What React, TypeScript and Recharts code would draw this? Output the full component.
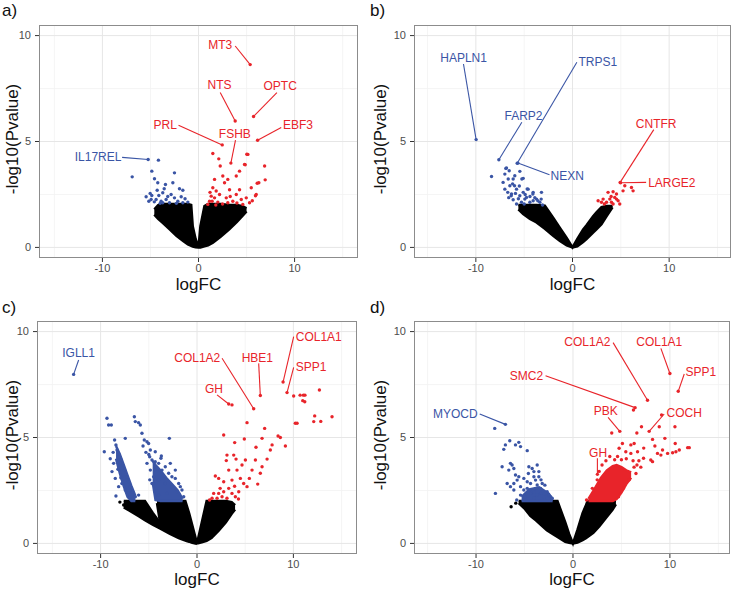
import React from "react";
import { ComposedChart, XAxis, YAxis, Scatter, Area, ReferenceLine, CartesianGrid } from "recharts";

// [x, y] points, [x, low, high] bands for dense clouds
type Pt = [number, number];
type Band = [number, number, number];
type Lab = { name: string; tx: number; ty: number; sx: number; sy: number; px: number; py: number };

const RED = "#e8242a";
const BLUE = "#3a55a5";
const FONT = '"Liberation Sans", Arial, Helvetica, sans-serif';

const X_TICKS = [-10, 0, 10];
const Y_TICKS = [0, 5, 10];
const GX_MAJOR = [-10, 0, 10];
const GX_MINOR = [-15, -5, 5, 15];
const GY_MAJOR = [0, 5, 10];
const GY_MINOR = [2.5, 7.5];
const Y_DOMAIN: [number, number] = [-0.5, 10.5];

// ---------- panel a ----------
const aBlack: Band[] = [
  [-4.6, 1.55, 1.8], [-4.2, 1.35, 2.0], [-3.7, 1.15, 2.05], [-3.0, 0.85, 2.05], [-2.3, 0.55, 2.05],
  [-1.6, 0.3, 2.05], [-1.1, 0.14, 2.05], [-0.76, 0.07, 2.0], [-0.6, 0.04, 1.0], [-0.3, 0.01, 0.4],
  [0, 0, 0], [0.2, 0.0, 1.0], [0.62, 0.05, 1.95], [1.0, 0.1, 2.05], [1.5, 0.22, 2.05], [2.3, 0.5, 2.05],
  [3.2, 0.85, 2.0], [4.0, 1.2, 2.0], [4.6, 1.5, 1.95], [5.0, 1.7, 1.85],
];
const aBlue: Pt[] = [
  [-6.9, 3.33], [-4.17, 4.12], [-4.86, 3.6], [-2.5, 3.52], [-4.58, 3.24], [-2.67, 3.05], [-3.57, 2.77],
  [-1.98, 2.77], [-1.63, 2.7], [-5.03, 2.55], [-5.45, 2.39], [-4.86, 2.45], [-4.41, 2.26], [-3.89, 2.18],
  [-3.37, 2.26], [-3.02, 2.11], [-2.5, 2.34], [-2.15, 2.18], [-1.63, 2.11], [-1.11, 2.14], [-3.72, 2.58],
  [-4.13, 2.45], [-4.93, 2.26], [-3.72, 2.11], [-2.85, 2.5], [-3.44, 2.97], [-4.24, 3.05], [-1.8, 2.39],
  [-5.17, 2.18], [-3.99, 2.08], [-4.6, 2.15], [-2.3, 2.08], [-1.4, 2.3], [-3.2, 2.4], [-4.3, 2.7],
];
const aRed: Pt[] = [
  [1.49, 4.43], [2.11, 4.18], [2.26, 3.84], [5.14, 4.39], [4.79, 3.92], [4.27, 3.6], [3.93, 3.37],
  [6.88, 3.84], [6.28, 3.05], [5.49, 2.82], [6.01, 2.5], [2.53, 3.37], [3.05, 3.21], [2.71, 3.05],
  [3.23, 2.72], [1.67, 3.21], [1.49, 2.82], [1.84, 2.66], [1.32, 2.42], [2.19, 2.5], [1.42, 2.18],
  [2.01, 2.14], [1.15, 2.18], [3.93, 2.5], [4.45, 2.26], [4.97, 2.34], [3.57, 2.18], [3.05, 2.11],
  [4.61, 2.03], [5.31, 2.11], [4.27, 2.72], [2.89, 2.34], [0.97, 2.03], [1.67, 2.34], [6.94, 3.19],
  [5.03, 4.4], [4.86, 3.9], [6.11, 3.03], [5.93, 2.44], [1.2, 2.6], [1.8, 2.0], [2.5, 2.05], [3.3, 2.4],
  [4.0, 2.1], [5.6, 2.2],
];
const aLabels: Lab[] = [
  { name: "MT3", tx: 2.26, ty: 9.54, sx: 3.82, sy: 9.51, px: 5.38, py: 8.63 },
  { name: "NTS", tx: 2.19, ty: 7.66, sx: 2.26, sy: 7.31, px: 3.82, py: 5.97 },
  { name: "OPTC", tx: 8.5, ty: 7.63, sx: 8.16, sy: 7.31, px: 5.73, py: 6.18 },
  { name: "PRL", tx: -3.47, ty: 5.77, sx: -2.08, sy: 5.77, px: 2.47, py: 4.84 },
  { name: "FSHB", tx: 3.78, ty: 5.35, sx: 3.85, sy: 5.06, px: 3.37, py: 3.98 },
  { name: "EBF3", tx: 10.35, ty: 5.77, sx: 8.61, sy: 5.66, px: 6.15, py: 5.06 },
  { name: "IL17REL", tx: -10.45, ty: 4.28, sx: -7.95, sy: 4.25, px: -5.24, py: 4.15 },
];

// ---------- panel b ----------
const bBlack: Band[] = [
  [-5.6, 1.8, 2.0], [-5.1, 1.57, 2.0], [-4.4, 1.35, 2.0], [-3.72, 1.18, 2.0], [-2.86, 0.88, 1.97],
  [-2.0, 0.55, 1.4], [-1.3, 0.3, 0.92], [-0.6, 0.1, 0.45], [0, 0, 0], [0.5, 0.05, 0.4], [1.1, 0.25, 0.85],
  [1.45, 0.39, 1.05], [2.13, 0.7, 1.47], [2.48, 0.85, 1.65], [3.0, 1.1, 1.9], [3.52, 1.47, 1.95],
  [4.14, 1.89, 1.95],
];
const bBlue: Pt[] = [
  [-8.38, 3.35], [-6.9, 3.73], [-6.55, 3.62], [-7.0, 3.46], [-5.45, 3.59], [-5.1, 3.26], [-6.14, 3.23],
  [-7.18, 3.07], [-6.48, 2.91], [-7.0, 2.75], [-5.79, 2.75], [-4.59, 2.75], [-4.07, 2.6], [-3.21, 2.6],
  [-6.31, 2.52], [-5.45, 2.44], [-4.76, 2.36], [-3.72, 2.28], [-6.14, 2.25], [-5.28, 2.13], [-4.41, 2.13],
  [-3.38, 2.13], [-3.1, 2.0], [-5.79, 2.05], [-6.65, 3.23], [-5.97, 3.38], [-4.93, 2.28], [-4.07, 2.2],
  [-5.1, 2.6], [-6.83, 3.75], [-5.24, 3.23], [-4.69, 2.76], [-4.1, 2.52], [-3.59, 2.2], [-3.24, 2.28],
  [-6.0, 2.91], [-6.34, 2.44], [-5.6, 2.3], [-6.7, 2.6], [-4.4, 2.4], [-5.0, 2.05], [-6.2, 3.0],
  [-5.5, 2.9], [-4.9, 2.5], [-3.9, 2.35], [-6.6, 2.35], [-5.9, 2.55],
];
const bRed: Pt[] = [
  [2.65, 2.2], [3.17, 2.28], [3.68, 2.6], [4.2, 2.63], [3.86, 2.28], [4.37, 2.36], [4.72, 2.2], [4.55, 2.52],
  [5.23, 2.67], [5.41, 2.91], [6.1, 2.83], [6.27, 2.67], [4.03, 2.13], [3.52, 2.13], [4.89, 2.05],
  [4.2, 2.05], [3.0, 2.13], [4.55, 2.28], [3.3, 2.05], [4.0, 2.4],
];
const bLabels: Lab[] = [
  { name: "HAPLN1", tx: -11.27, ty: 8.93, sx: -11.28, sy: 8.66, px: -9.97, py: 5.09 },
  { name: "FARP2", tx: -5.07, ty: 6.19, sx: -5.24, sy: 5.91, px: -7.62, py: 4.14 },
  { name: "TRPS1", tx: 2.62, ty: 8.74, sx: 0.45, sy: 8.74, px: -5.72, py: 3.97 },
  { name: "NEXN", tx: -0.55, ty: 3.39, sx: -2.38, sy: 3.43, px: -5.65, py: 3.98 },
  { name: "CNTFR", tx: 8.66, ty: 5.81, sx: 8.41, sy: 5.56, px: 4.93, py: 3.07 },
  { name: "LARGE2", tx: 10.28, ty: 3.04, sx: 7.62, sy: 3.07, px: 4.97, py: 3.05 },
];

// ---------- panel c ----------
const cBlackOuter: Band[] = [
  [-7.6, 1.7, 2.0], [-7.0, 1.55, 2.0], [-6.05, 1.28, 2.0], [-5.4, 1.1, 2.0], [-4.6, 0.88, 1.45],
  [-3.8, 0.7, 0.95], [-2.8, 0.45, 0.7], [-1.9, 0.25, 0.45], [-1.0, 0.1, 0.2], [0, 0, 0],
];
const cBlackInner: Band[] = [
  [-4.15, 1.9, 2.0], [-3.8, 0.9, 2.0], [-2.5, 0.55, 2.0], [-1.21, 0.2, 2.0], [-0.8, 0.1, 1.4],
  [-0.4, 0.02, 0.7], [0, 0, 0],
];
const cBlackRight: Band[] = [
  [0, 0, 0], [0.5, 0.05, 1.0], [1.0, 0.12, 2.0], [1.5, 0.25, 2.0], [2.25, 0.6, 2.0], [3.0, 1.0, 2.0],
  [3.6, 1.4, 1.95], [3.95, 1.6, 1.8],
];
const cBlueOuter: Band[] = [
  [-8.4, 4.0, 4.6], [-8.0, 3.3, 4.2], [-7.6, 2.7, 3.7], [-7.2, 2.2, 3.2], [-6.8, 2.0, 2.7], [-6.4, 2.0, 2.25],
];
const cBlueInner: Band[] = [
  [-4.6, 2.9, 3.9], [-4.3, 2.05, 3.7], [-3.8, 2.0, 3.45], [-3.2, 2.0, 3.1], [-2.6, 2.0, 2.8], [-2.0, 2.0, 2.5],
  [-1.5, 2.0, 2.1],
];
const cBlue: Pt[] = [
  [-9.34, 5.91], [-9.17, 5.59], [-8.89, 5.59], [-9.62, 4.33], [-8.55, 4.88], [-8.41, 4.65], [-8.3, 4.41],
  [-8.13, 4.25], [-8.06, 4.09], [-7.85, 3.94], [-7.72, 3.7], [-7.51, 3.46], [-7.27, 3.15], [-7.09, 2.91],
  [-6.92, 2.68], [-6.68, 2.44], [-6.4, 2.2], [-8.65, 3.78], [-8.82, 3.39], [-8.48, 3.07], [-8.41, 2.24],
  [-8.13, 2.68], [-7.79, 2.83], [-7.44, 2.52], [-6.92, 2.2], [-6.06, 2.28], [-7.44, 4.96],
  [-6.5, 5.98], [-6.4, 5.75], [-6.06, 5.7], [-5.88, 5.59], [-5.71, 5.2], [-5.47, 4.88], [-5.19, 4.8],
  [-5.02, 4.72], [-2.87, 4.96], [-4.91, 4.09], [-4.67, 3.94], [-4.33, 3.86], [-3.98, 3.78], [-3.74, 4.02],
  [-4.33, 3.46], [-3.63, 3.46], [-3.29, 3.62], [-2.94, 3.31], [-2.6, 3.15], [-2.25, 3.07], [-1.9, 2.83],
  [-1.56, 2.52], [-3.29, 2.83], [-3.98, 2.99], [-4.5, 3.15], [-4.67, 2.83], [-2.6, 2.68], [-1.9, 2.36],
  [-3.11, 2.36], [-3.98, 2.28], [-4.84, 4.41], [-5.19, 3.78], [-4.33, 4.33], [-3.7, 4.13], [-4.84, 3.46],
  [-2.77, 3.78], [-2.25, 3.46], [-1.73, 2.68], [-1.38, 2.2], [-5.3, 4.3], [-5.6, 4.6], [-8.7, 4.3],
  [-9.0, 4.0], [-8.2, 3.5], [-7.9, 3.1], [-7.0, 2.5], [-4.9, 3.0], [-5.0, 4.2],
];
const cRed: Pt[] = [
  [3.63, 6.54], [10.03, 6.96], [10.7, 7.0], [11.04, 7.0], [11.2, 7.0], [12.7, 7.24], [10.97, 6.74],
  [11.18, 6.69], [12.21, 6.02], [12.11, 5.75], [12.84, 5.76], [14.01, 5.98], [10.2, 5.67], [10.38, 5.67],
  [5.19, 5.7], [7.02, 5.43], [8.41, 5.07], [8.65, 5.0], [9.17, 4.6], [2.77, 5.12], [3.91, 4.76],
  [4.91, 4.93], [6.12, 4.54], [6.75, 4.96], [3.11, 4.17], [3.81, 4.17], [3.04, 3.91], [4.05, 3.98],
  [5.02, 3.94], [6.06, 3.94], [7.27, 3.98], [6.75, 3.62], [6.57, 3.31], [6.3, 2.8], [1.9, 3.18],
  [2.25, 3.07], [2.77, 2.91], [3.29, 3.46], [3.63, 2.99], [4.15, 3.46], [4.5, 3.07], [4.84, 2.83],
  [5.19, 2.68], [5.43, 3.07], [4.33, 2.44], [3.98, 2.2], [3.63, 2.36], [3.29, 2.6], [2.77, 2.44],
  [2.25, 2.36], [1.73, 2.36], [1.56, 2.13], [2.08, 2.13], [2.6, 2.2], [3.11, 2.13], [4.67, 3.7],
  [5.71, 3.46], [7.61, 4.41], [7.79, 4.65], [1.3, 2.05], [2.4, 2.6], [3.9, 2.7], [4.3, 2.1],
];
const cBlackPts: Pt[] = [[-7.61, 1.81], [-7.3, 1.9], [-8.0, 1.95]];
const cLabels: Lab[] = [
  { name: "IGLL1", tx: -12.28, ty: 9.0, sx: -12.28, sy: 8.66, px: -12.8, py: 7.98 },
  { name: "COL1A2", tx: 0.03, ty: 8.74, sx: 2.6, sy: 8.74, px: 5.88, py: 6.36 },
  { name: "HBE1", tx: 6.26, ty: 8.74, sx: 6.4, sy: 8.5, px: 6.57, py: 6.98 },
  { name: "COL1A1", tx: 12.63, ty: 9.76, sx: 10.03, sy: 9.76, px: 8.93, py: 7.62 },
  { name: "SPP1", tx: 11.83, ty: 8.35, sx: 10.03, sy: 8.31, px: 9.34, py: 7.12 },
  { name: "GH", tx: 1.76, ty: 7.28, sx: 2.08, sy: 7.01, px: 3.29, py: 6.58 },
];

// ---------- panel d ----------
const dBlack: Band[] = [
  [-5.6, 1.9, 2.0], [-5.0, 1.65, 2.0], [-4.4, 1.3, 2.0], [-3.8, 1.08, 2.0], [-2.7, 0.62, 2.0],
  [-2.1, 0.45, 2.0], [-1.6, 0.3, 2.0], [-0.8, 0.08, 1.0], [-0.4, 0.03, 0.45], [0, 0, 0],
  [0.47, 0.04, 0.65], [0.99, 0.15, 1.43], [1.34, 0.25, 1.8], [1.51, 0.3, 2.0], [2.1, 0.5, 2.0],
  [2.71, 0.8, 2.0], [3.4, 1.2, 2.0], [4.08, 1.59, 2.0], [4.43, 1.85, 2.0],
];
const dBlueBand: Band[] = [
  [-5.3, 2.0, 2.2], [-4.5, 2.0, 2.55], [-3.5, 2.0, 2.65], [-2.5, 2.0, 2.35], [-2.1, 2.0, 2.05],
];
const dRedBand: Band[] = [
  [1.6, 2.0, 2.1], [2.2, 2.0, 2.55], [2.9, 2.0, 3.1], [3.5, 2.0, 3.45], [4.1, 2.0, 3.65], [4.5, 2.1, 3.7],
  [5.0, 2.4, 3.6], [5.5, 2.8, 3.45], [6.0, 3.1, 3.35],
];
const dBlue: Pt[] = [
  [-8.07, 5.43], [-8.0, 2.36], [-6.52, 4.85], [-5.59, 4.77], [-5.41, 4.57], [-5.93, 4.65], [-7.14, 4.44],
  [-6.97, 4.65], [-4.72, 4.38], [-7.31, 3.62], [-6.62, 3.46], [-6.1, 3.54], [-6.28, 3.7], [-6.45, 3.78],
  [-4.55, 3.62], [-4.21, 3.54], [-3.69, 3.7], [-4.03, 3.39], [-3.52, 3.39], [-6.79, 2.83], [-6.1, 2.83],
  [-5.76, 2.99], [-5.41, 2.68], [-5.07, 2.52], [-4.72, 2.6], [-4.38, 2.36], [-4.03, 2.44], [-3.69, 2.28],
  [-3.34, 2.36], [-3.0, 2.2], [-2.66, 2.44], [-2.31, 2.2], [-2.14, 2.13], [-5.41, 2.28], [-4.9, 2.2],
  [-4.03, 2.13], [-2.83, 2.36], [-2.48, 2.28], [-3.34, 2.6], [-3.69, 2.76], [-4.38, 2.83], [-4.72, 2.91],
  [-5.07, 3.07], [-5.59, 3.15], [-5.93, 3.23], [-6.1, 2.52], [-6.45, 2.68], [-3.86, 2.99], [-3.52, 3.15],
  [-3.17, 2.83], [-4.03, 3.15], [-2.9, 2.75], [-3.3, 3.0], [-4.6, 3.3], [-5.8, 2.05],
];
const dRed: Pt[] = [
  [6.24, 6.3], [9.14, 6.06], [7.07, 5.51], [4.0, 5.21], [6.59, 5.21], [8.9, 5.51], [10.52, 5.51],
  [9.48, 4.96], [8.21, 4.91], [8.45, 4.6], [10.55, 4.72], [11.83, 4.52], [12.0, 4.52], [10.97, 4.41],
  [10.62, 4.33], [10.28, 4.28], [9.76, 4.25], [8.72, 4.25], [9.07, 4.17], [9.24, 4.41], [7.28, 4.02],
  [8.21, 3.86], [8.03, 3.94], [5.1, 4.72], [5.97, 4.65], [6.31, 4.72], [4.76, 4.49], [5.45, 4.33],
  [5.97, 4.25], [6.66, 4.33], [6.8, 3.9], [7.0, 3.6], [6.6, 3.7], [6.5, 3.3], [3.0, 3.7], [3.4, 3.9],
  [2.5, 3.0], [2.0, 2.6], [4.6, 4.1], [7.3, 4.5], [5.5, 4.0], [6.2, 3.9], [1.4, 2.05], [3.8, 4.1],
  [4.3, 3.95], [5.0, 3.95], [2.7, 3.4], [6.3, 3.6], [5.8, 3.0], [5.2, 2.6], [4.7, 2.2],
];
const dBlackPts: Pt[] = [[-6.38, 1.73], [-5.9, 1.9]];
const dLabels: Lab[] = [
  { name: "MYOCD", tx: -12.14, ty: 6.11, sx: -9.62, sy: 6.11, px: -6.97, py: 5.62 },
  { name: "COL1A2", tx: 1.48, ty: 9.53, sx: 4.14, sy: 9.48, px: 7.69, py: 6.76 },
  { name: "COL1A1", tx: 8.9, ty: 9.53, sx: 9.07, sy: 9.21, px: 10.0, py: 8.02 },
  { name: "SPP1", tx: 13.2, ty: 8.08, sx: 11.48, sy: 8.0, px: 10.86, py: 7.18 },
  { name: "SMC2", tx: -4.79, ty: 7.92, sx: -2.83, sy: 7.92, px: 6.41, py: 6.41 },
  { name: "PBK", tx: 3.38, ty: 6.27, sx: 3.62, sy: 5.95, px: 4.83, py: 5.29 },
  { name: "COCH", tx: 11.48, ty: 6.17, sx: 9.41, sy: 6.11, px: 7.86, py: 5.29 },
  { name: "GH", tx: 2.59, ty: 4.28, sx: 2.52, sy: 4.02, px: 2.52, py: 3.26 },
];

const pts = (a: Pt[]) => a.map(([x, y]) => ({ x, y }));
const bands = (a: Band[]) => a.map(([x, lo, hi]) => ({ x, band: [lo, hi] }));

const dot = (color: string) => (p: any) => <circle cx={p.cx} cy={p.cy} r={1.7} fill={color} />;

const labelText = (p: any) => {
  const d = p.payload || p;
  return (
    <text x={p.cx} y={p.cy} textAnchor="middle" dominantBaseline="central" fontSize={12}
      fontFamily={FONT} fill={d.color}>
      {d.name}
    </text>
  );
};

type PanelProps = {
  letter: string; ox: number; oy: number;
  left: number; top: number; right: number; bottom: number;
  xDomain: [number, number]; titleY: number;
  blackBands: Band[][]; blueBands: Band[][]; redBands: Band[][];
  black: Pt[]; blue: Pt[]; red: Pt[]; labels: Lab[];
};

function Panel(props: PanelProps) {
  const { letter, ox, oy, left, top, right, bottom, xDomain, titleY } = props;
  const W = 368, H = 297, yw = 30, xh = 20;
  const margin = { left: left - yw, top, right: W - right, bottom: H - bottom - xh };
  const labs = props.labels.map((l) => ({ ...l, color: l.px < 0 ? BLUE : RED }));
  // grid positions follow the same linear mapping as the axes
  const gx = (v: number) => left + ((v - xDomain[0]) / (xDomain[1] - xDomain[0])) * (right - left);
  const gy = (v: number) => top + ((Y_DOMAIN[1] - v) / (Y_DOMAIN[1] - Y_DOMAIN[0])) * (bottom - top);
  const cx = (left + right) / 2;
  const cy = (top + bottom) / 2 - 3;
  return (
    <div style={{ position: "absolute", left: ox, top: oy, width: W, height: H }}>
      <ComposedChart width={W} height={H} margin={margin}>
        <CartesianGrid stroke="#f3f3f3" strokeWidth={0.8} verticalPoints={GX_MINOR.map(gx)}
          horizontalPoints={GY_MINOR.map(gy)} />
        <CartesianGrid stroke="#e6e6e6" strokeWidth={1} verticalPoints={GX_MAJOR.map(gx)}
          horizontalPoints={GY_MAJOR.map(gy)} />
        <XAxis type="number" dataKey="x" domain={xDomain} ticks={X_TICKS} allowDataOverflow height={xh}
          axisLine={false} tickSize={4} tickMargin={2} tickLine={{ stroke: "#333" }}
          tick={{ fill: "#4d4d4d", fontSize: 11, fontFamily: FONT }} />
        <YAxis type="number" dataKey="y" domain={Y_DOMAIN} ticks={Y_TICKS} allowDataOverflow width={yw}
          axisLine={false} tickSize={4} tickMargin={4} tickLine={{ stroke: "#333" }}
          tick={{ fill: "#4d4d4d", fontSize: 11, fontFamily: FONT }} />
        {props.blackBands.map((b, i) => (
          <Area key={"k" + i} data={bands(b)} dataKey="band" type="linear" fill="#000" fillOpacity={1}
            stroke="#000" strokeWidth={2.5} dot={false} activeDot={false} isAnimationActive={false} />
        ))}
        {props.blueBands.map((b, i) => (
          <Area key={"bb" + i} data={bands(b)} dataKey="band" type="linear" fill={BLUE} fillOpacity={1}
            stroke={BLUE} strokeWidth={2.5} dot={false} activeDot={false} isAnimationActive={false} />
        ))}
        {props.redBands.map((b, i) => (
          <Area key={"rb" + i} data={bands(b)} dataKey="band" type="linear" fill={RED} fillOpacity={1}
            stroke={RED} strokeWidth={2.5} dot={false} activeDot={false} isAnimationActive={false} />
        ))}
        <Scatter data={pts(props.black)} shape={dot("#000")} isAnimationActive={false} />
        <Scatter data={pts(props.blue)} shape={dot(BLUE)} isAnimationActive={false} />
        <Scatter data={pts(props.red)} shape={dot(RED)} isAnimationActive={false} />
        {labs.map((l) => (
          <ReferenceLine key={"s" + l.name} segment={[{ x: l.sx, y: l.sy }, { x: l.px, y: l.py }]}
            stroke={l.color} strokeWidth={1.1} ifOverflow="visible" />
        ))}
        <Scatter data={labs.filter((l) => l.px < 0).map((l) => ({ x: l.px, y: l.py }))} shape={dot(BLUE)} isAnimationActive={false} />
        <Scatter data={labs.filter((l) => l.px >= 0).map((l) => ({ x: l.px, y: l.py }))} shape={dot(RED)} isAnimationActive={false} />
        <Scatter data={labs.map((l) => ({ x: l.tx, y: l.ty, name: l.name, color: l.color }))}
          shape={labelText} isAnimationActive={false} />
      </ComposedChart>
      <div style={{ position: "absolute", left, top, width: right - left, height: bottom - top,
        border: "1px solid #8c8c8c", boxSizing: "border-box", pointerEvents: "none" }} />
      <div style={{ position: "absolute", left: 2, top: 1, fontSize: 17, lineHeight: "20px", color: "#111" }}>
        {letter}
      </div>
      <div style={{ position: "absolute", left: cx - 60, top: titleY, width: 120, textAlign: "center",
        fontSize: 17, lineHeight: "17px", color: "#111" }}>
        logFC
      </div>
      <div style={{ position: "absolute", left: 13 - 100, top: cy - 10, width: 200, height: 20,
        textAlign: "center", fontSize: 17, lineHeight: "20px", color: "#111", transform: "rotate(-90deg)" }}>
        -log10(Pvalue)
      </div>
    </div>
  );
}

export default function App() {
  return (
    <div style={{ position: "absolute", left: 0, top: 0, width: 736, height: 594, background: "#fff",
      fontFamily: FONT, overflow: "hidden" }}>
      <Panel letter="a)" ox={0} oy={0} left={39} top={25} right={358} bottom={258} xDomain={[-16.6, 16.6]}
        titleY={276} blackBands={[aBlack]} blueBands={[]} redBands={[]} black={[]} blue={aBlue} red={aRed}
        labels={aLabels} />
      <Panel letter="b)" ox={368} oy={0} left={46} top={25} right={363} bottom={258} xDomain={[-16.4, 16.4]}
        titleY={276} blackBands={[bBlack]} blueBands={[]} redBands={[]} black={[]} blue={bBlue} red={bRed}
        labels={bLabels} />
      <Panel letter="c)" ox={0} oy={297} left={37} top={24} right={357} bottom={257} xDomain={[-16.6, 16.6]}
        titleY={274} blackBands={[cBlackOuter, cBlackInner, cBlackRight]} blueBands={[cBlueOuter, cBlueInner]}
        redBands={[]} black={cBlackPts} blue={cBlue} red={cRed} labels={cLabels} />
      <Panel letter="d)" ox={368} oy={297} left={46} top={24} right={362} bottom={257} xDomain={[-16.4, 16.2]}
        titleY={274} blackBands={[dBlack]} blueBands={[dBlueBand]} redBands={[dRedBand]} black={dBlackPts}
        blue={dBlue} red={dRed} labels={dLabels} />
    </div>
  );
}
